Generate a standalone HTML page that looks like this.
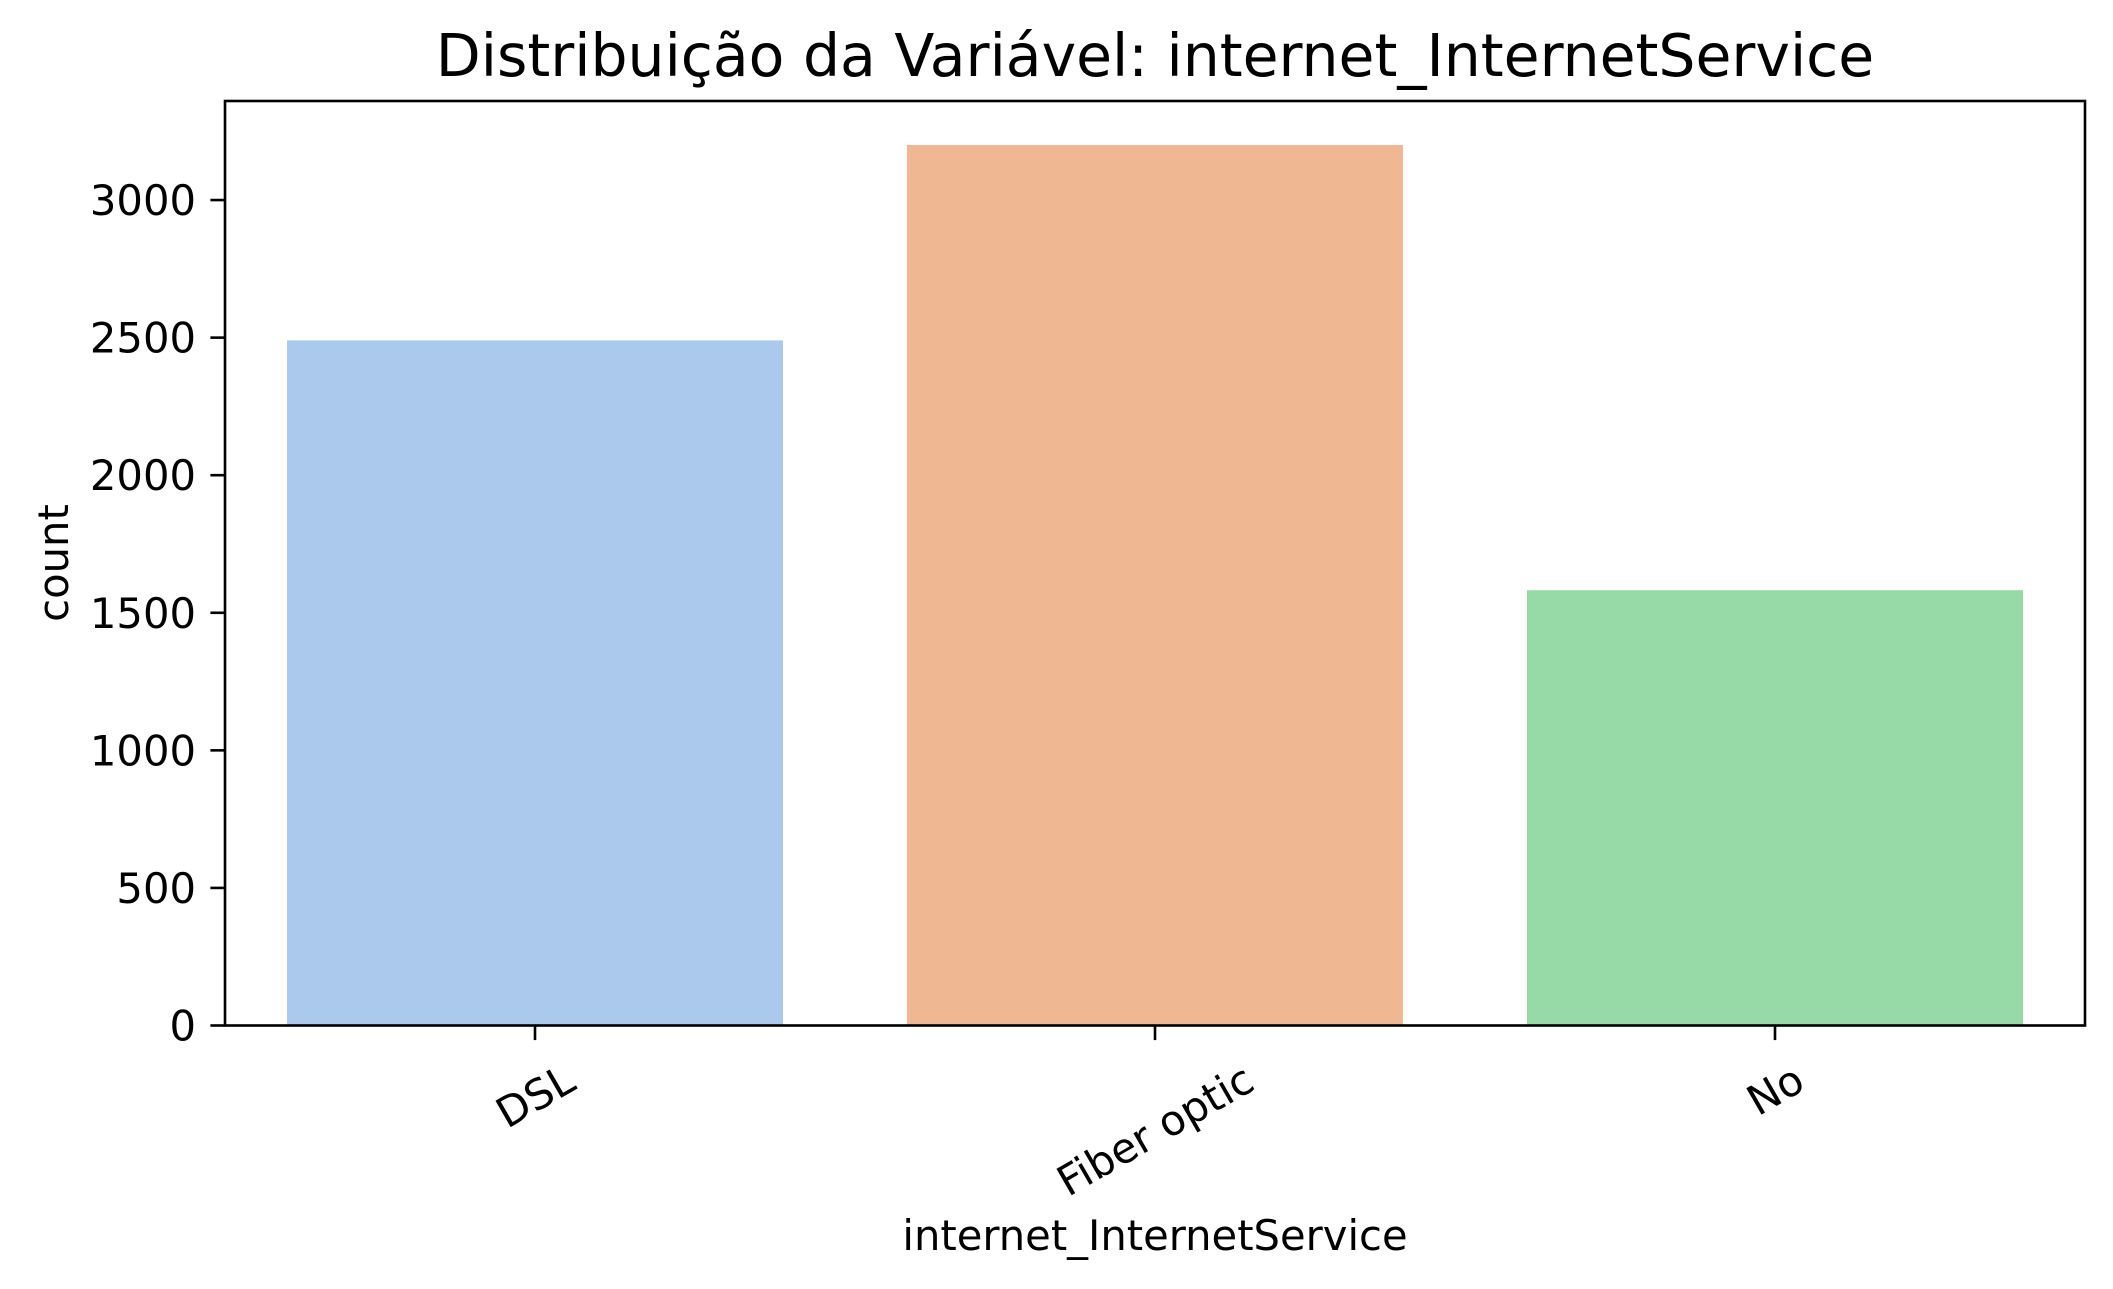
<!DOCTYPE html>
<html><head><meta charset="utf-8"><style>
html,body{margin:0;padding:0;background:#fff;}
svg{display:block;font-family:"DejaVu Sans","Liberation Sans",sans-serif;}
</style></head><body>
<svg id="chart" width="2113" height="1289" viewBox="0 0 2113 1289">
<text x="1155" y="76" font-size="58.4" text-anchor="middle" fill="#000">Distribuição da Variável: internet_InternetService</text>
<g id="bars"></g>
<g id="yaxis"></g>
<g id="xaxis"></g>
<rect x="225" y="101" width="1860" height="924.5" fill="none" stroke="#000" stroke-width="2.6"/>
<text x="1155" y="1250" font-size="41.7" text-anchor="middle">internet_InternetService</text>
<text transform="translate(68,563) rotate(-90)" font-size="41.7" text-anchor="middle">count</text>
</svg>
<script>
const categories = ["DSL", "Fiber optic", "No"];
const counts = [2490, 3200, 1582];
const colors = ["#abc9ec", "#f0b793", "#98d9a8"];
const yTicks = [0, 500, 1000, 1500, 2000, 2500, 3000];

const NS = "http://www.w3.org/2000/svg";
const L = 225, R = 2085, T = 101, B = 1025.5;
const yMax = Math.max(...counts) * 1.05;
const yScale = v => B - v / yMax * (B - T);
const slot = (R - L) / categories.length;
const xCenter = i => L + slot * (i + 0.5);
const bw = slot * 0.8;

const bars = document.getElementById('bars');
counts.forEach((v, i) => {
  const r = document.createElementNS(NS, 'rect');
  r.setAttribute('x', xCenter(i) - bw / 2);
  r.setAttribute('y', yScale(v));
  r.setAttribute('width', bw);
  r.setAttribute('height', B - yScale(v));
  r.setAttribute('fill', colors[i]);
  
  
  bars.appendChild(r);
});

const ya = document.getElementById('yaxis');
yTicks.forEach(t => {
  const y = yScale(t);
  const ln = document.createElementNS(NS, 'line');
  ln.setAttribute('x1', L - 14.6); ln.setAttribute('x2', L);
  ln.setAttribute('y1', y); ln.setAttribute('y2', y);
  ln.setAttribute('stroke', '#000'); ln.setAttribute('stroke-width', '2.6');
  
  
  ya.appendChild(ln);
  const tx = document.createElementNS(NS, 'text');
  tx.setAttribute('x', L - 29); tx.setAttribute('y', y + 15);
  tx.setAttribute('font-size', '41.7'); tx.setAttribute('text-anchor', 'end');
  tx.textContent = t;
  
  
  ya.appendChild(tx);
});

const xa = document.getElementById('xaxis');
categories.forEach((c, i) => {
  const x = xCenter(i);
  const ln = document.createElementNS(NS, 'line');
  ln.setAttribute('x1', x); ln.setAttribute('x2', x);
  ln.setAttribute('y1', B); ln.setAttribute('y2', B + 14.6);
  ln.setAttribute('stroke', '#000'); ln.setAttribute('stroke-width', '2.6');
  
  
  xa.appendChild(ln);
  const tx = document.createElementNS(NS, 'text');
  tx.setAttribute('font-size', '41.7'); tx.setAttribute('text-anchor', 'middle');
  tx.textContent = c;
  
  
  xa.appendChild(tx);
  const w = tx.getComputedTextLength();
  const h = 48;
  const cy = B + 29 + (w * 0.5 + h * 0.866) / 2;
  tx.setAttribute('transform', `translate(${x},${cy}) rotate(-30)`);
  tx.setAttribute('y', 15);
});
</script>
</body></html>
